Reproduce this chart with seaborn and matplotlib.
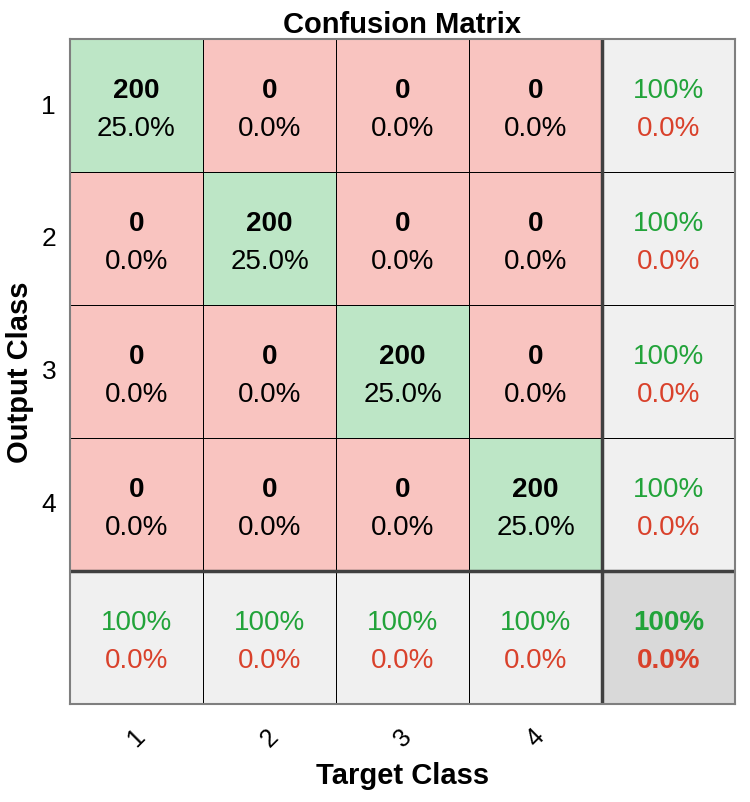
import numpy as np
import seaborn as sns
import matplotlib.pyplot as plt
from matplotlib.colors import ListedColormap

# Confusion matrix data
classes = ['1', '2', '3', '4']
counts = [[200, 0, 0, 0],
          [0, 200, 0, 0],
          [0, 0, 200, 0],
          [0, 0, 0, 200]]
cell_pct = [['25.0%', '0.0%', '0.0%', '0.0%'],
            ['0.0%', '25.0%', '0.0%', '0.0%'],
            ['0.0%', '0.0%', '25.0%', '0.0%'],
            ['0.0%', '0.0%', '0.0%', '25.0%']]
row_correct = ['100%', '100%', '100%', '100%']
row_wrong = ['0.0%', '0.0%', '0.0%', '0.0%']
col_correct = ['100%', '100%', '100%', '100%']
col_wrong = ['0.0%', '0.0%', '0.0%', '0.0%']
total_correct = '100%'
total_wrong = '0.0%'

plt.rcParams['font.family'] = ['Liberation Sans', 'DejaVu Sans']

n = len(classes)
# colour codes: 0 wrong, 1 correct, 2 summary, 3 overall
codes = np.full((n + 1, n + 1), 2)
for i in range(n):
    for j in range(n):
        codes[i, j] = 1 if i == j else 0
codes[n, n] = 3

cmap = ListedColormap(['#f9c4c0', '#bde6c6', '#f0f0f0', '#d9d9d9'])
green_txt = '#22a33a'
red_txt = '#d9412b'
fs = 20
y_top, y_bot = 0.38, 0.67

fig = plt.figure(figsize=(7.5, 8.03), dpi=100)
ax = fig.add_axes([70 / 750, 1 - 705 / 803, 665 / 750, 665 / 803])
sns.heatmap(codes, cmap=cmap, vmin=-0.5, vmax=3.5, cbar=False, linewidths=0.7,
            linecolor='black', ax=ax, square=False)

for i in range(n):
    for j in range(n):
        ax.text(j + 0.5, i + y_top, str(counts[i][j]), ha='center', va='center',
                fontsize=fs, fontweight='bold', color='black')
        ax.text(j + 0.5, i + y_bot, cell_pct[i][j], ha='center', va='center',
                fontsize=fs, color='black')
    ax.text(n + 0.5, i + y_top, row_correct[i], ha='center', va='center', fontsize=fs, color=green_txt)
    ax.text(n + 0.5, i + y_bot, row_wrong[i], ha='center', va='center', fontsize=fs, color=red_txt)
    ax.text(i + 0.5, n + y_top, col_correct[i], ha='center', va='center', fontsize=fs, color=green_txt)
    ax.text(i + 0.5, n + y_bot, col_wrong[i], ha='center', va='center', fontsize=fs, color=red_txt)
ax.text(n + 0.5, n + y_top, total_correct, ha='center', va='center', fontsize=fs,
        fontweight='bold', color=green_txt)
ax.text(n + 0.5, n + y_bot, total_wrong, ha='center', va='center', fontsize=fs,
        fontweight='bold', color=red_txt)

# thick separators before the summary row/column
ax.axhline(n, color='#404040', lw=2.5)
ax.axvline(n, color='#404040', lw=2.5)
for s in ax.spines.values():
    s.set_visible(True)
    s.set_color('#7f7f7f')
    s.set_linewidth(1.5)

ax.set_xticks(np.arange(n) + 0.5)
ax.set_xticklabels(classes, rotation=45, fontsize=18)
ax.set_yticks(np.arange(n) + 0.5)
ax.set_yticklabels(classes, rotation=0, fontsize=19)
ax.tick_params(axis='x', length=0, pad=14)
ax.tick_params(axis='y', length=0, pad=10)
ax.set_xlabel('Target Class', fontsize=21, fontweight='bold', labelpad=8)
ax.set_ylabel('Output Class', fontsize=21, fontweight='bold', labelpad=5)
ax.set_title('Confusion Matrix', fontsize=21, fontweight='bold', pad=5)

plt.savefig('out.png', dpi=100)
